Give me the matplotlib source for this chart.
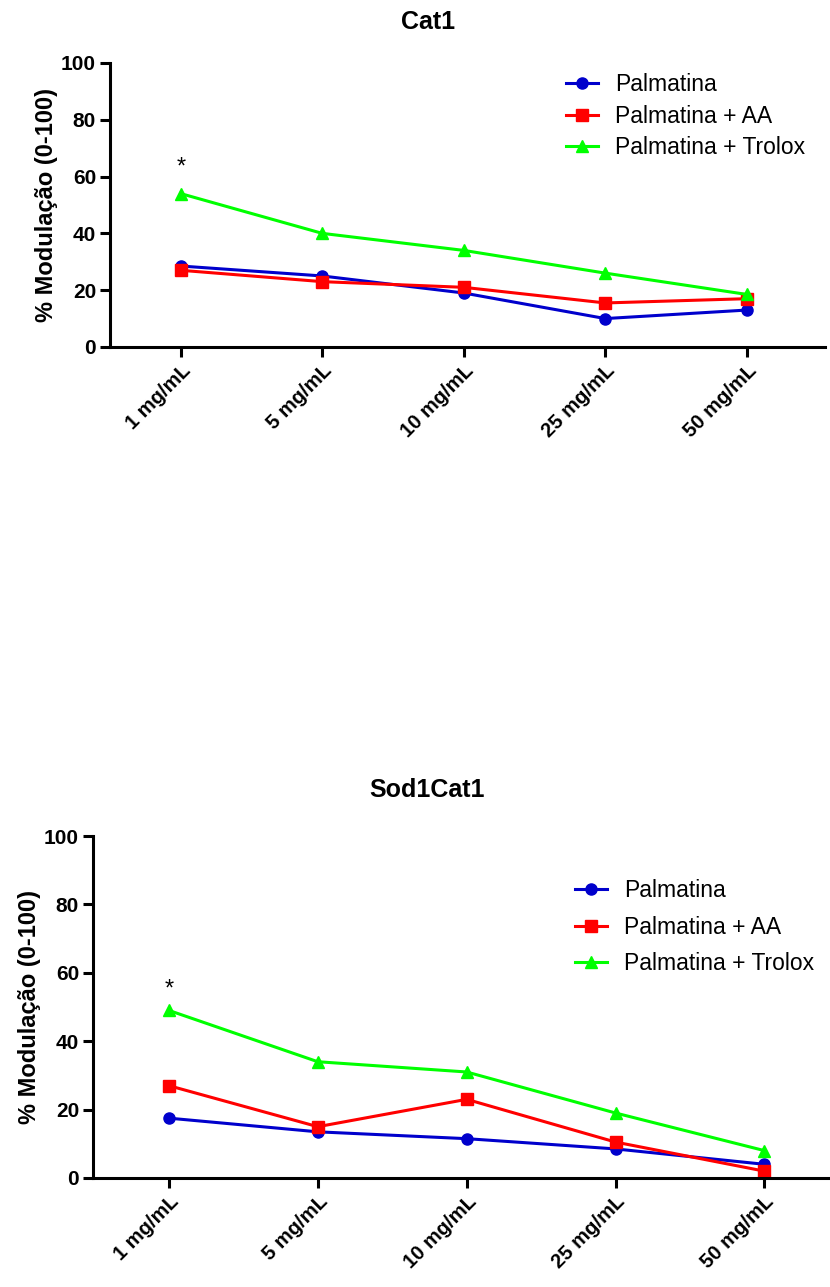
import matplotlib
matplotlib.use("Agg")
import matplotlib.pyplot as plt

plt.rcParams['font.family'] = ['Liberation Sans', 'DejaVu Sans']

doses = ['1 mg/mL', '5 mg/mL', '10 mg/mL', '25 mg/mL', '50 mg/mL']
series_names = ['Palmatina', 'Palmatina + AA', 'Palmatina + Trolox']

# Cat1
cat1_palm = [28.5, 25, 19, 10, 13]
cat1_aa = [27, 23, 21, 15.5, 17]
cat1_trolox = [54, 40, 34, 26, 18.5]
cat1_star = 63

# Sod1Cat1
sod_palm = [17.5, 13.5, 11.5, 8.5, 4]
sod_aa = [27, 15, 23, 10.5, 2]
sod_trolox = [49, 34, 31, 19, 8]
sod_star = 55

colors = ['#0000cc', '#ff0000', '#00ff00']
markers = ['o', 's', '^']

W, H = 830, 1287
fig = plt.figure(figsize=(8.3, 12.87), dpi=100)
ax1 = fig.add_axes([0.1325, 0.7304, 0.861, 0.2207])
ax2 = fig.add_axes([0.112, 0.0847, 0.888, 0.2657])


def draw(ax, title, title_xy, data, star, xlim, leg_xy, leg_space):
    x = range(len(doses))
    for vals, name, c, m in zip(data, series_names, colors, markers):
        ax.plot(x, vals, color=c, marker=m, markersize=8, linewidth=2.2, label=name)
    ax.text(0, star, '*', ha='center', va='center', fontsize=17)
    ax.set_xlim(*xlim)
    ax.set_ylim(0, 100)
    ax.set_yticks([0, 20, 40, 60, 80, 100])
    ax.set_xticks(list(x))
    ax.set_xticklabels(doses, rotation=45, ha='right', rotation_mode='anchor',
                       fontsize=14.5, fontweight='bold')
    for lab in ax.get_yticklabels():
        lab.set_fontweight('bold')
        lab.set_fontsize(15)
    ax.spines['top'].set_visible(False)
    ax.spines['right'].set_visible(False)
    ax.spines['left'].set_linewidth(2.2)
    ax.spines['bottom'].set_linewidth(2.2)
    ax.tick_params(width=2.2, length=7, pad=3)
    ax.set_ylabel('% Modulação (0-100)', fontsize=17, fontweight='bold', labelpad=2)
    fig.text(title_xy[0] / W, 1 - title_xy[1] / H, title, ha='center', va='center',
             fontsize=18, fontweight='bold')
    ax.legend(loc='upper left', bbox_to_anchor=(leg_xy[0] / W, 1 - leg_xy[1] / H),
              bbox_transform=fig.transFigure, frameon=False, borderpad=0,
              borderaxespad=0, fontsize=16.5, handlelength=1.4, handletextpad=0.75,
              labelspacing=leg_space, markerscale=1.0)


draw(ax1, 'Cat1', (428, 22), [cat1_palm, cat1_aa, cat1_trolox], cat1_star,
     (-0.5, 4.55), (566, 73), 0.38)
draw(ax2, 'Sod1Cat1', (427, 790), [sod_palm, sod_aa, sod_trolox], sod_star,
     (-0.51, 4.44), (575, 879), 0.6)

fig.savefig('out.png', dpi=100)
